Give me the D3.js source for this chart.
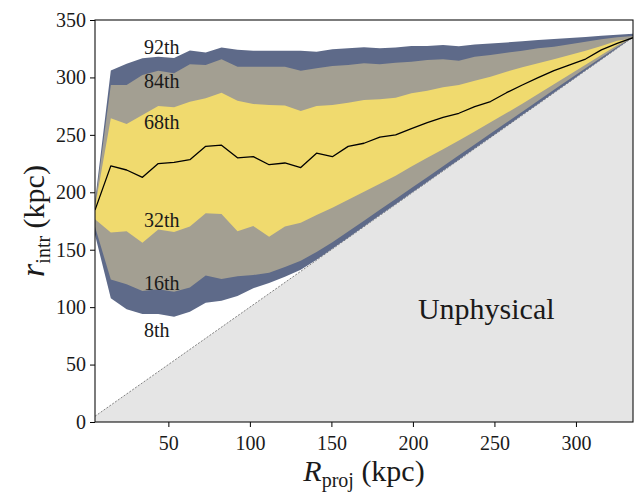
<!DOCTYPE html>
<html>
<head>
<meta charset="utf-8">
<script src="https://cdn.jsdelivr.net/npm/d3@7/dist/d3.min.js"></script>
<style>
  html, body { margin: 0; padding: 0; background: #fff; }
  svg { display: block; }
  text { font-family: "Liberation Serif", "DejaVu Serif", serif; fill: #1a1a1a; }
</style>
</head>
<body>
<svg id="chart" width="635" height="492"></svg>
<script>
// ---- data ----
const Rproj = [5, 14.7, 24.4, 34.1, 43.8, 53.5, 63.2, 72.9, 82.6, 92.4, 102.1, 111.8, 121.5, 131.2, 140.9, 150.6, 160.3, 170, 179.7, 189.4, 199.1, 208.8, 218.5, 228.2, 237.9, 247.6, 257.4, 267.1, 276.8, 286.5, 296.2, 305.9, 315.6, 325.3, 335];

const p8  = [163, 107.7, 98.1, 94, 94, 91.7, 96, 103.9, 105.6, 109.7, 116.5, 121, 126.5, 132.5, 141.2, 150.8, 160.5, 170.2, 179.9, 189.6, 199.3, 209, 218.7, 228.4, 238.1, 247.8, 257.5, 267.2, 276.9, 286.6, 296.3, 306, 315.7, 325.4, 335];
const p16 = [170, 124, 120, 114, 115.5, 113.5, 117, 127.5, 124.5, 127, 128, 130, 135, 140.5, 148, 156.5, 165.8, 175.2, 184.7, 194.2, 203.7, 213.2, 222.7, 232.2, 241.7, 251.2, 260.7, 270.2, 279.7, 289.2, 298.6, 308, 317.4, 326.6, 335];
const p32 = [176.5, 165, 166, 156, 167.5, 165.5, 170.3, 181.7, 181.1, 166, 170.6, 161.3, 170.2, 173.5, 180.3, 186.5, 193.5, 200.5, 207.5, 214.5, 222.5, 230, 237.5, 245, 253, 261, 269, 277, 285.5, 294, 302.5, 311, 319.5, 328, 335];
const p50 = [184.5, 223, 219.4, 213, 225, 226, 228.4, 240, 241, 230, 231, 224, 225.5, 221.5, 234, 231, 240, 242.7, 248, 250, 255.5, 260.6, 265.3, 268.8, 274.5, 279, 286.7, 293.4, 299.8, 306, 311, 316, 324, 329.7, 334.6];
const p68 = [187, 264.4, 259.4, 267.3, 275.1, 274, 278.9, 281.8, 286.7, 279.7, 276.9, 276, 275.5, 270.8, 275.1, 276, 278, 280.3, 281, 282.4, 286.2, 288.4, 291.4, 293.4, 297.1, 300.6, 305, 308.8, 312.3, 315.8, 319.5, 323.2, 327.4, 332, 334];
const p84 = [189, 293.4, 293.4, 302.1, 305.9, 303.6, 311.4, 310.8, 315.8, 309.3, 309.3, 309.3, 309.3, 305.8, 307.9, 309.9, 310.8, 312.3, 311.4, 312.8, 313.7, 315.2, 315.8, 314.6, 318, 319.5, 321.5, 323.2, 325.3, 326.8, 328.8, 331.1, 333.2, 334.9, 336];
const p92 = [192, 306, 312, 316.6, 318, 317, 323.5, 321.7, 326, 324, 323.2, 323.2, 323.2, 323.2, 322.4, 324.5, 325.3, 326.2, 325.3, 326, 327.4, 327.4, 328.2, 327.2, 328.7, 329.5, 330.5, 331.5, 332.5, 333.4, 334.3, 335.3, 336.2, 337.1, 338];

const xTicks = [50, 100, 150, 200, 250, 300];
const yTicks = [0, 50, 100, 150, 200, 250, 300, 350];
const xDomain = [5, 335];
const yDomain = [0, 350];

const bandLabels = ["92th", "84th", "68th", "32th", "16th", "8th"];
const bandLabelR = [35, 35, 35, 35, 35, 35];
const bandLabelr = [320.4, 290.5, 255.5, 170, 115, 74];

// ---- layout ----
const svg = d3.select("#chart");
const L = 95, Rt = 633, T = 20, B = 422;
const x = d3.scaleLinear().domain(xDomain).range([L, Rt]);
const y = d3.scaleLinear().domain(yDomain).range([B, T]);

const rows = Rproj.map((R, i) => ({R, p8: p8[i], p16: p16[i], p32: p32[i], p50: p50[i], p68: p68[i], p84: p84[i], p92: p92[i]}));

const defs = svg.append("defs");
defs.append("clipPath").attr("id", "clip").append("rect")
  .attr("x", L).attr("y", T).attr("width", Rt - L).attr("height", B - T);

const g = svg.append("g").attr("clip-path", "url(#clip)");

// unphysical region r < R
const diag = xDomain.map(v => ({R: v, r: v}));
g.append("path")
  .datum(diag)
  .attr("fill", "#e5e5e5")
  .attr("d", d3.area().x(d => x(d.R)).y0(y(0)).y1(d => y(d.r)));
g.append("path")
  .datum(diag)
  .attr("fill", "none")
  .attr("stroke", "#666")
  .attr("stroke-width", 0.8)
  .attr("stroke-dasharray", "2,1.5")
  .attr("d", d3.line().x(d => x(d.R)).y(d => y(d.r)));

// bands
const bands = [
  {lo: "p8", hi: "p92", color: "#5e6a89"},
  {lo: "p16", hi: "p84", color: "#a39f92"},
  {lo: "p32", hi: "p68", color: "#f0da6e"}
];
bands.forEach(b => {
  g.append("path")
    .datum(rows)
    .attr("fill", b.color)
    .attr("d", d3.area().x(d => x(d.R)).y0(d => y(d[b.lo])).y1(d => y(d[b.hi])));
});

// median
g.append("path")
  .datum(rows)
  .attr("fill", "none")
  .attr("stroke", "#000")
  .attr("stroke-width", 1.3)
  .attr("stroke-linejoin", "round")
  .attr("d", d3.line().x(d => x(d.R)).y(d => y(d.p50)));

// percentile labels
bandLabels.forEach((t, i) => {
  svg.append("text")
    .attr("x", x(bandLabelR[i]))
    .attr("y", y(bandLabelr[i]))
    .attr("font-size", 20)
    .text(t);
});

// Unphysical label
svg.append("text")
  .attr("x", x(245))
  .attr("y", y(89.5))
  .attr("text-anchor", "middle")
  .attr("font-size", 30)
  .text("Unphysical");

// axes
const xAxis = d3.axisBottom(x).tickValues(xTicks).tickSize(5).tickPadding(4).tickFormat(d3.format("d"));
const yAxis = d3.axisLeft(y).tickValues(yTicks).tickSize(5).tickPadding(4).tickFormat(d3.format("d"));

const gx = svg.append("g").attr("transform", `translate(0,${B})`).call(xAxis);
const gy = svg.append("g").attr("transform", `translate(${L},0)`).call(yAxis);
[gx, gy].forEach(a => {
  a.select(".domain").remove();
  a.selectAll(".tick line").attr("stroke", "#000").attr("stroke-width", 1);
  a.selectAll(".tick text").attr("font-size", 20).attr("fill", "#1a1a1a")
    .style("font-family", '"Liberation Serif", "DejaVu Serif", serif');
});
gx.selectAll(".tick text").attr("dy", "0.95em");

// frame
svg.append("rect")
  .attr("x", L).attr("y", T).attr("width", Rt - L).attr("height", B - T)
  .attr("fill", "none").attr("stroke", "#111").attr("stroke-width", 1.1);

// x label
const xl = svg.append("text")
  .attr("x", (L + Rt) / 2)
  .attr("y", 481)
  .attr("text-anchor", "middle")
  .attr("font-size", 30);
xl.append("tspan").attr("font-style", "italic").text("R");
xl.append("tspan").attr("font-size", 20).attr("dy", 6).text("proj");
xl.append("tspan").attr("dy", -6).text(" (kpc)");

// y label
const yl = svg.append("text")
  .attr("transform", `translate(44,${(T + B) / 2}) rotate(-90)`)
  .attr("text-anchor", "middle")
  .attr("font-size", 30);
yl.append("tspan").attr("font-style", "italic").attr("font-size", 34).text("r");
yl.append("tspan").attr("font-size", 20).attr("dy", 6).text("intr");
yl.append("tspan").attr("dy", -6).text(" (kpc)");
</script>
</body>
</html>
